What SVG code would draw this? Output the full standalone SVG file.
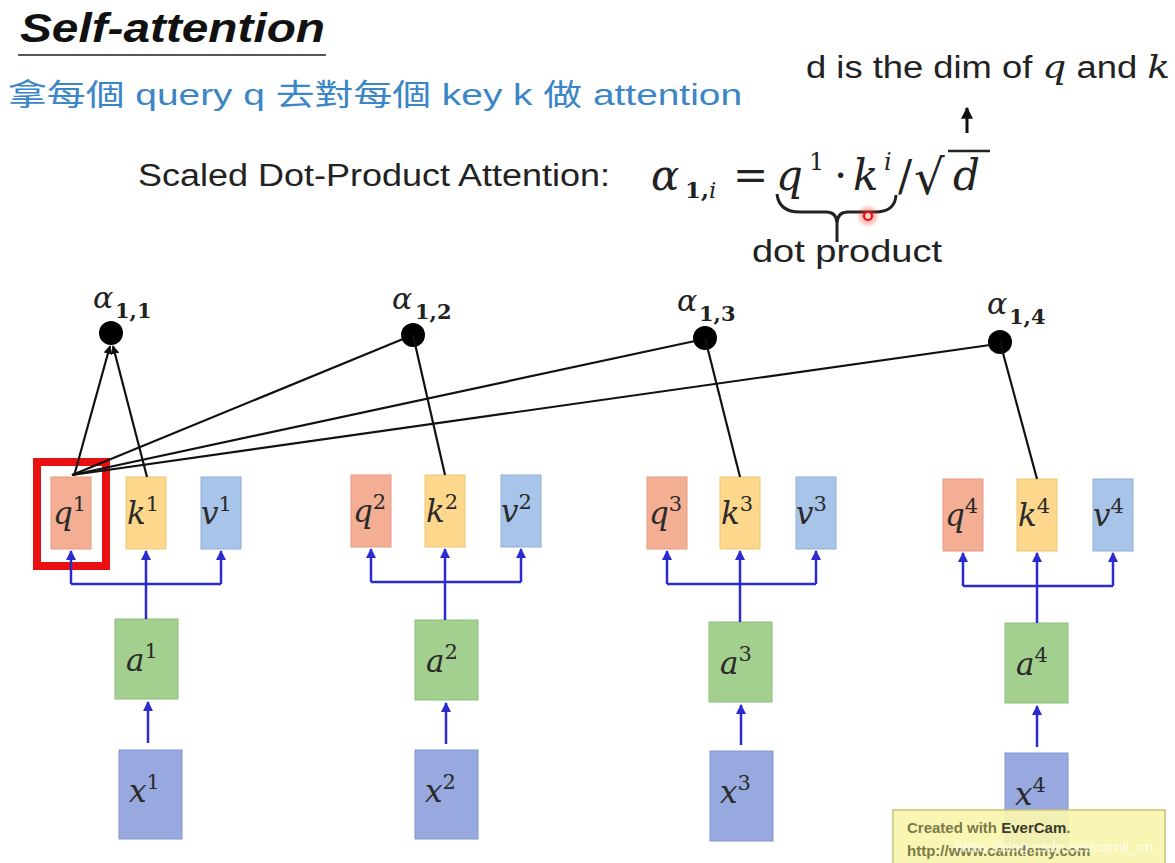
<svg xmlns="http://www.w3.org/2000/svg" width="1175" height="863" viewBox="0 0 1175 863">
<style>
.sans{font-family:"Liberation Sans","Noto Sans",sans-serif;}
.cjk{font-family:"Liberation Sans","Noto Sans CJK TC",sans-serif;}
.math{font-family:"DejaVu Serif","Liberation Serif",serif;font-style:italic;}
.up{font-style:normal;}
.q{fill:#F3AE94;stroke:#E59A80;stroke-width:1;}
.k{fill:#FDD88C;stroke:#F0C470;stroke-width:1;}
.v{fill:#A8C4E8;stroke:#90AEDA;stroke-width:1;}
.a{fill:#A4D08F;stroke:#8CBE78;stroke-width:1;}
.x{fill:#97A9DE;stroke:#8196D2;stroke-width:1;}
.lbl{font-family:"DejaVu Serif","Liberation Serif",serif;font-style:italic;font-size:31px;fill:#2a2a2a;}
.sup{font-style:normal;font-size:21px;}
.sub{font-family:"DejaVu Serif","Liberation Serif",serif;font-size:21px;font-weight:bold;fill:#222;}
.blue{stroke:#2B2BD0;stroke-width:2.5;fill:none;}
.blk{stroke:#111;stroke-width:2.2;fill:none;}
</style>
<defs>
<marker id="ba" viewBox="0 0 10 10" refX="9" refY="5" markerWidth="4" markerHeight="4" orient="auto"><path d="M0,0 L10,5 L0,10 z" fill="#2B2BD0"/></marker>
<marker id="ka" viewBox="0 0 10 10" refX="9" refY="5" markerWidth="4" markerHeight="4" orient="auto"><path d="M0,0 L10,5 L0,10 z" fill="#111"/></marker>
<radialGradient id="glow"><stop offset="0" stop-color="#ff3030" stop-opacity="0.7"/><stop offset="1" stop-color="#ff3030" stop-opacity="0"/></radialGradient>
</defs>
<rect width="1175" height="863" fill="#ffffff"/>

<g id="header">
<text x="20" y="42" class="sans" font-size="40" font-weight="bold" font-style="italic" fill="#111" textLength="305" lengthAdjust="spacingAndGlyphs">Self-attention</text>
<line x1="18" y1="55" x2="326" y2="55" stroke="#555" stroke-width="2"/>
<text x="8" y="105" class="cjk" font-size="30" fill="#3A86C6" textLength="734" lengthAdjust="spacingAndGlyphs">拿每個 query q 去對每個  key k 做 attention</text>
<text x="806" y="78" class="sans" font-size="31" fill="#222" textLength="364" lengthAdjust="spacingAndGlyphs">d is the dim of <tspan class="math" font-size="32">q</tspan> and <tspan class="math" font-size="32">k</tspan></text>
<line x1="967" y1="133" x2="967" y2="108" stroke="#111" stroke-width="3" marker-end="url(#ka)"/>
<text x="138" y="186" class="sans" font-size="31" fill="#222" textLength="472" lengthAdjust="spacingAndGlyphs">Scaled Dot-Product Attention:</text>
<g id="formula" class="math" fill="#222">
<text x="651" y="190" font-size="42">α</text>
<text x="685" y="198" font-size="23" class="up" font-weight="bold">1,<tspan font-style="italic" font-weight="normal">i</tspan></text>
<text x="733" y="190" font-size="42" class="up">=</text>
<text x="776" y="190" font-size="42">q</text>
<text x="809" y="170" font-size="24" class="up">1</text>
<text x="834" y="190" font-size="42" class="up">·</text>
<text x="853" y="190" font-size="42">k</text>
<text x="884" y="170" font-size="24">i</text>
<text x="898" y="190" font-size="42" class="up">/</text>
<text x="914" y="194" font-size="48" class="up">√</text>
<line x1="948" y1="151" x2="990" y2="151" stroke="#222" stroke-width="2.5"/>
<text x="953" y="190" font-size="42">d</text>
</g>
<path d="M777,194 Q779,212 800,212 L826,212 Q836,212 837,222 Q838,212 848,212 L875,212 Q895,212 896,195" fill="none" stroke="#222" stroke-width="3"/>
<line x1="837" y1="220" x2="837" y2="242" stroke="#222" stroke-width="3"/>
<circle cx="868" cy="216" r="12" fill="url(#glow)"/>
<circle cx="868" cy="216" r="4" fill="#ffd0d0" stroke="#e01010" stroke-width="2.2"/>
<text x="752" y="262" class="sans" font-size="32" fill="#222" textLength="190" lengthAdjust="spacingAndGlyphs">dot product</text>
</g>

<g id="alpha11"><text x="93" y="308" class="math" font-size="30" fill="#222">α</text><text x="115" y="318" class="sub">1,1</text><circle cx="111" cy="333" r="12" fill="#000"/></g>
<g id="alpha12"><text x="392" y="309" class="math" font-size="30" fill="#222">α</text><text x="415" y="319" class="sub">1,2</text><circle cx="413" cy="335" r="12" fill="#000"/></g>
<g id="alpha13"><text x="677" y="311" class="math" font-size="30" fill="#222">α</text><text x="699" y="321" class="sub">1,3</text><circle cx="705" cy="338" r="12" fill="#000"/></g>
<g id="alpha14"><text x="987" y="314" class="math" font-size="30" fill="#222">α</text><text x="1009" y="324" class="sub">1,4</text><circle cx="1000" cy="342" r="12" fill="#000"/></g>

<g id="highlight"><rect x="37" y="462" width="69" height="104" fill="none" stroke="#E81010" stroke-width="8"/></g>

<g id="q1"><rect class="q" x="51" y="477" width="40" height="72"/><text class="lbl" x="53" y="524">q<tspan class="sup" dy="-13">1</tspan></text></g>
<g id="k1"><rect class="k" x="126" y="477" width="40" height="72"/><text class="lbl" x="127" y="524">k<tspan class="sup" dy="-13">1</tspan></text></g>
<g id="v1"><rect class="v" x="201" y="477" width="40" height="72"/><text class="lbl" x="201" y="524">v<tspan class="sup" dy="-13">1</tspan></text></g>
<g id="q2"><rect class="q" x="351" y="475" width="40" height="72"/><text class="lbl" x="353" y="522">q<tspan class="sup" dy="-13">2</tspan></text></g>
<g id="k2"><rect class="k" x="425" y="475" width="40" height="72"/><text class="lbl" x="426" y="522">k<tspan class="sup" dy="-13">2</tspan></text></g>
<g id="v2"><rect class="v" x="501" y="475" width="40" height="72"/><text class="lbl" x="501" y="522">v<tspan class="sup" dy="-13">2</tspan></text></g>
<g id="q3"><rect class="q" x="647" y="477" width="40" height="72"/><text class="lbl" x="649" y="524">q<tspan class="sup" dy="-13">3</tspan></text></g>
<g id="k3"><rect class="k" x="720" y="477" width="40" height="72"/><text class="lbl" x="721" y="524">k<tspan class="sup" dy="-13">3</tspan></text></g>
<g id="v3"><rect class="v" x="796" y="477" width="40" height="72"/><text class="lbl" x="796" y="524">v<tspan class="sup" dy="-13">3</tspan></text></g>
<g id="q4"><rect class="q" x="943" y="479" width="40" height="72"/><text class="lbl" x="945" y="526">q<tspan class="sup" dy="-13">4</tspan></text></g>
<g id="k4"><rect class="k" x="1017" y="479" width="40" height="72"/><text class="lbl" x="1018" y="526">k<tspan class="sup" dy="-13">4</tspan></text></g>
<g id="v4"><rect class="v" x="1093" y="479" width="40" height="72"/><text class="lbl" x="1093" y="526">v<tspan class="sup" dy="-13">4</tspan></text></g>

<g id="a1"><rect class="a" x="115" y="619" width="63" height="80"/><text class="lbl" x="126" y="671">a<tspan class="sup" dy="-13">1</tspan></text></g>
<g id="a2"><rect class="a" x="415" y="620" width="63" height="80"/><text class="lbl" x="426" y="672">a<tspan class="sup" dy="-13">2</tspan></text></g>
<g id="a3"><rect class="a" x="709" y="622" width="63" height="80"/><text class="lbl" x="720" y="674">a<tspan class="sup" dy="-13">3</tspan></text></g>
<g id="a4"><rect class="a" x="1005" y="623" width="63" height="80"/><text class="lbl" x="1016" y="675">a<tspan class="sup" dy="-13">4</tspan></text></g>

<g id="x1"><rect class="x" x="119" y="750" width="63" height="89"/><text class="lbl" x="129" y="802">x<tspan class="sup" dy="-13">1</tspan></text></g>
<g id="x2"><rect class="x" x="415" y="750" width="63" height="89"/><text class="lbl" x="425" y="802">x<tspan class="sup" dy="-13">2</tspan></text></g>
<g id="x3"><rect class="x" x="710" y="751" width="63" height="90"/><text class="lbl" x="720" y="803">x<tspan class="sup" dy="-13">3</tspan></text></g>
<g id="x4"><rect class="x" x="1005" y="753" width="63" height="92"/><text class="lbl" x="1015" y="805">x<tspan class="sup" dy="-13">4</tspan></text></g>

<g id="connectors">
<line class="blk" x1="74" y1="476" x2="110" y2="346" marker-end="url(#ka)"/>
<line class="blk" x1="147" y1="477" x2="113" y2="346" marker-end="url(#ka)"/>
<line class="blk" x1="72" y1="475" x2="403" y2="339"/>
<line class="blk" x1="72" y1="475" x2="695" y2="341"/>
<line class="blk" x1="72" y1="475" x2="990" y2="345"/>
<line class="blk" x1="445" y1="475" x2="413" y2="335"/>
<line class="blk" x1="740" y1="477" x2="705" y2="338"/>
<line class="blk" x1="1037" y1="479" x2="1000" y2="342"/>
<path class="blue" d="M71,584 L221,584"/>
<path class="blue" d="M71,584 L71,551" marker-end="url(#ba)"/>
<path class="blue" d="M221,584 L221,551" marker-end="url(#ba)"/>
<path class="blue" d="M146,619 L146,551" marker-end="url(#ba)"/>
<path class="blue" d="M371,582 L521,582"/>
<path class="blue" d="M371,582 L371,549" marker-end="url(#ba)"/>
<path class="blue" d="M521,582 L521,549" marker-end="url(#ba)"/>
<path class="blue" d="M445,620 L445,549" marker-end="url(#ba)"/>
<path class="blue" d="M667,584 L816,584"/>
<path class="blue" d="M667,584 L667,551" marker-end="url(#ba)"/>
<path class="blue" d="M816,584 L816,551" marker-end="url(#ba)"/>
<path class="blue" d="M740,622 L740,551" marker-end="url(#ba)"/>
<path class="blue" d="M963,586 L1113,586"/>
<path class="blue" d="M963,586 L963,553" marker-end="url(#ba)"/>
<path class="blue" d="M1113,586 L1113,553" marker-end="url(#ba)"/>
<path class="blue" d="M1037,623 L1037,553" marker-end="url(#ba)"/>
<path class="blue" d="M148,743 L148,702" marker-end="url(#ba)"/>
<path class="blue" d="M446,744 L446,703" marker-end="url(#ba)"/>
<path class="blue" d="M741,745 L741,705" marker-end="url(#ba)"/>
<path class="blue" d="M1037,747 L1037,706" marker-end="url(#ba)"/>
</g>

<g id="watermark">
<rect x="893" y="810" width="272" height="58" fill="#F8F5AE" fill-opacity="0.92" stroke="#C9C27A" stroke-width="1.5"/>
<text x="907" y="833" class="sans" font-size="15" fill="#7A7A4A" font-weight="bold">Created with <tspan fill="#3a3a2a">EverCam</tspan>.</text>
<text x="907" y="856" class="sans" font-size="15" fill="#7A7A4A" font-weight="bold">http://www.camdemy.com<tspan x="955" y="852" font-weight="normal" fill="#ffffff" fill-opacity="0.75">https://blog.csdn.net/cornil_cn</tspan></text>
</g>
</svg>
